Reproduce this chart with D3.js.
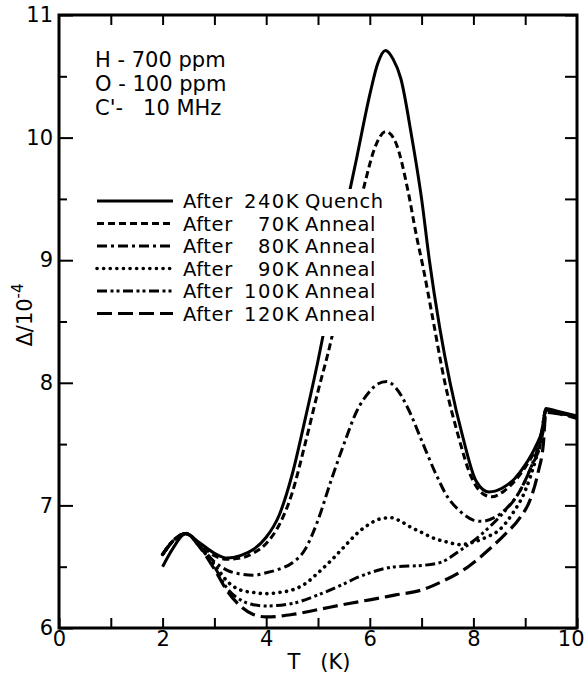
<!DOCTYPE html>
<meta charset="utf-8">
<script src="https://d3js.org/d3.v7.min.js"></script>
<style>
  body { margin: 0; background: #fff; }
  text { font-family: "DejaVu Sans", sans-serif; fill: #000; }
</style>
<div id="chart"></div>
<script>
// Each series: [T (K), Delta / 1e-4]
var quench240 = [[2.0,6.50],[2.2,6.65],[2.45,6.77],[2.7,6.70],[3.0,6.61],[3.25,6.57],[3.5,6.59],[3.75,6.64],[4.0,6.74],[4.25,6.92],[4.5,7.25],[4.75,7.70],[5.0,8.18],[5.25,8.72],[5.5,9.33],[5.75,9.84],[6.0,10.35],[6.15,10.6],[6.3,10.71],[6.45,10.64],[6.6,10.48],[6.8,10.03],[7.0,9.5],[7.15,9.0],[7.35,8.45],[7.55,8.0],[7.8,7.55],[8.05,7.2],[8.3,7.11],[8.55,7.14],[8.8,7.22],[9.0,7.33],[9.2,7.48],[9.33,7.62],[9.4,7.79],[9.6,7.77],[10.0,7.73]];
var anneal70 = [[2.0,6.60],[2.2,6.71],[2.45,6.77],[2.7,6.69],[3.0,6.59],[3.25,6.56],[3.5,6.57],[3.75,6.61],[4.0,6.69],[4.25,6.84],[4.5,7.1],[4.75,7.5],[5.0,7.93],[5.25,8.34],[5.5,8.85],[5.75,9.35],[5.9,9.62],[6.1,9.92],[6.31,10.05],[6.5,9.96],[6.74,9.56],[6.9,9.2],[7.03,8.94],[7.2,8.56],[7.45,8.0],[7.7,7.58],[7.95,7.24],[8.2,7.09],[8.35,7.07],[8.6,7.12],[8.8,7.2],[9.0,7.31],[9.2,7.46],[9.33,7.61],[9.4,7.78],[9.6,7.76],[10.0,7.72]];
var anneal80 = [[2.0,6.60],[2.2,6.71],[2.45,6.77],[2.7,6.68],[3.0,6.54],[3.25,6.47],[3.5,6.44],[3.75,6.43],[4.0,6.45],[4.25,6.48],[4.5,6.53],[4.75,6.64],[5.0,6.88],[5.25,7.2],[5.5,7.5],[5.75,7.77],[6.0,7.93],[6.15,7.99],[6.33,8.01],[6.5,7.96],[6.75,7.78],[7.0,7.53],[7.25,7.28],[7.5,7.07],[7.75,6.95],[8.0,6.88],[8.15,6.87],[8.4,6.9],[8.65,6.98],[8.9,7.12],[9.1,7.3],[9.3,7.56],[9.4,7.78],[9.6,7.76],[10.0,7.72]];
var anneal90 = [[2.0,6.60],[2.2,6.71],[2.45,6.77],[2.7,6.68],[3.0,6.52],[3.25,6.38],[3.5,6.31],[3.75,6.29],[4.0,6.28],[4.25,6.29],[4.5,6.31],[4.75,6.36],[5.0,6.45],[5.25,6.55],[5.5,6.66],[5.75,6.77],[6.0,6.85],[6.2,6.89],[6.4,6.9],[6.6,6.87],[6.8,6.82],[7.0,6.78],[7.25,6.73],[7.5,6.7],[7.75,6.68],[8.0,6.7],[8.25,6.74],[8.5,6.8],[8.75,6.93],[9.0,7.12],[9.2,7.37],[9.33,7.58],[9.4,7.78],[9.6,7.76],[10.0,7.72]];
var anneal100 = [[2.0,6.60],[2.2,6.71],[2.45,6.77],[2.7,6.67],[3.0,6.5],[3.25,6.32],[3.5,6.23],[3.75,6.19],[4.0,6.18],[4.5,6.2],[5.0,6.27],[5.5,6.36],[5.75,6.41],[6.0,6.45],[6.5,6.5],[7.0,6.51],[7.4,6.54],[7.7,6.62],[8.0,6.71],[8.3,6.82],[8.6,6.95],[8.9,7.12],[9.1,7.3],[9.33,7.57],[9.4,7.78],[9.6,7.76],[10.0,7.72]];
var anneal120 = [[2.0,6.60],[2.2,6.71],[2.45,6.77],[2.7,6.67],[3.0,6.48],[3.25,6.3],[3.5,6.18],[3.75,6.11],[4.0,6.09],[4.5,6.11],[5.0,6.15],[5.6,6.2],[6.0,6.23],[6.5,6.27],[7.0,6.31],[7.4,6.38],[7.9,6.5],[8.3,6.64],[8.6,6.76],[8.9,6.9],[9.1,7.05],[9.25,7.27],[9.35,7.5],[9.4,7.76],[9.6,7.75],[10.0,7.71]];

var legendNums = ["240K", "70K", "80K", "90K", "100K", "120K"];
var legendWords = ["Quench", "Anneal", "Anneal", "Anneal", "Anneal", "Anneal"];
var notes = ["H - 700 ppm", "O - 100 ppm", "C'-   10 MHz"];
var xTickLabels = [0, 2, 4, 6, 8, 10];
var yTickLabels = [6, 7, 8, 9, 10, 11];

var width = 585, height = 673;
var svg = d3.select("#chart").append("svg")
    .attr("width", width)
    .attr("height", height);

var x = d3.scaleLinear().domain([0, 10]).range([59, 577]);
var y = d3.scaleLinear().domain([6, 11]).range([628, 15]);

// line styles
var styles = [
  {data: quench240, dash: null, cap: "butt", w: 3},
  {data: anneal70, dash: "7,4", cap: "butt", w: 3},
  {data: anneal80, dash: "10,4,3,4", cap: "butt", w: 3},
  {data: anneal90, dash: "0.1,6.5", cap: "round", w: 3.6},
  {data: anneal100, dash: "10,3.5,3,3,3,3.5", cap: "butt", w: 3},
  {data: anneal120, dash: "15,6", cap: "butt", w: 3.2}
];

var line = d3.line()
    .x(d => x(d[0]))
    .y(d => y(d[1]))
    .curve(d3.curveMonotoneX);

svg.append("g")
  .selectAll("path")
  .data(styles)
  .join("path")
    .attr("d", d => line(d.data))
    .attr("fill", "none")
    .attr("stroke", "#000")
    .attr("stroke-width", d => d.w)
    .attr("stroke-linecap", d => d.cap)
    .attr("stroke-dasharray", d => d.dash);

// axes, ticks pointing inward
var xTicks = d3.range(0, 11, 1);
var yTicks = d3.range(6, 11.01, 0.5);

var xAxis = svg.append("g")
    .attr("transform", `translate(0,${y(6)})`)
    .call(d3.axisBottom(x).tickValues(xTicks).tickSize(-10).tickPadding(3)
      .tickFormat(d => xTickLabels.includes(d) ? d : ""));

svg.append("g")
    .attr("transform", `translate(0,${y(11)})`)
    .call(d3.axisTop(x).tickValues(xTicks.slice(1, 10)).tickSize(-10).tickFormat(""));

var yAxis = svg.append("g")
    .attr("transform", `translate(${x(0)},0)`)
    .call(d3.axisLeft(y).tickValues(yTicks).tickSize(-8).tickPadding(6)
      .tickFormat(d => yTickLabels.includes(d) ? d : ""));

svg.append("g")
    .attr("transform", `translate(${x(10)},0)`)
    .call(d3.axisRight(y).tickValues(yTicks).tickSize(-12).tickFormat(""));

svg.selectAll(".domain").remove();
svg.selectAll(".tick line").attr("stroke", "#000").attr("stroke-width", 2);
svg.selectAll(".tick text")
    .attr("font-family", "DejaVu Sans, sans-serif")
    .attr("font-size", 21)
    .attr("fill", "#000");

// integer ticks on the left axis are a bit longer
yAxis.selectAll(".tick line").filter(d => d % 1 === 0).attr("x2", 14);

// the "10" at the right end sits against the page edge
xAxis.selectAll(".tick text").filter(d => d === 10)
    .attr("text-anchor", "end").attr("x", 584 - x(10));

svg.append("rect")
    .attr("x", x(0)).attr("y", y(11))
    .attr("width", x(10) - x(0)).attr("height", y(6) - y(11))
    .attr("fill", "none")
    .attr("stroke", "#000")
    .attr("stroke-width", 3);

// axis titles
svg.append("text")
    .attr("x", 319).attr("y", 669)
    .attr("text-anchor", "middle")
    .attr("font-size", 21)
    .style("white-space", "pre")
    .text("T   (K)");

var yt = svg.append("text")
    .attr("transform", "translate(32,315) rotate(-90)")
    .attr("text-anchor", "middle")
    .attr("font-size", 21);
yt.append("tspan").text("Δ/10");
yt.append("tspan").attr("dy", -9).attr("font-size", 15).text("-4");

// sample notes
svg.append("g")
  .selectAll("text")
  .data(notes)
  .join("text")
    .attr("x", 95)
    .attr("y", (d, i) => 67 + i * 24)
    .attr("font-size", 21)
    .style("white-space", "pre")
    .text(d => d);

// legend with white backing box
svg.append("rect")
    .attr("x", 88).attr("y", 189)
    .attr("width", 300).attr("height", 147)
    .attr("fill", "#fff");

var leg = svg.append("g")
  .selectAll("g")
  .data(styles)
  .join("g")
    .attr("transform", (d, i) => `translate(0,${201 + i * 22.5})`);

leg.append("line")
    .attr("x1", 97).attr("x2", 173)
    .attr("stroke", "#000")
    .attr("stroke-width", d => d.w)
    .attr("stroke-linecap", d => d.cap)
    .attr("stroke-dasharray", d => d.dash);

leg.append("text")
    .attr("x", 183).attr("y", 7)
    .attr("font-size", 19.5)
    .attr("letter-spacing", 0.6)
    .text("After");

leg.append("text")
    .attr("x", 300).attr("y", 7)
    .attr("text-anchor", "end")
    .attr("font-size", 19.5)
    .attr("letter-spacing", 1.5)
    .text((d, i) => legendNums[i]);

leg.append("text")
    .attr("x", 305).attr("y", 7)
    .attr("font-size", 19.5)
    .attr("letter-spacing", 0.6)
    .text((d, i) => legendWords[i]);
</script>
